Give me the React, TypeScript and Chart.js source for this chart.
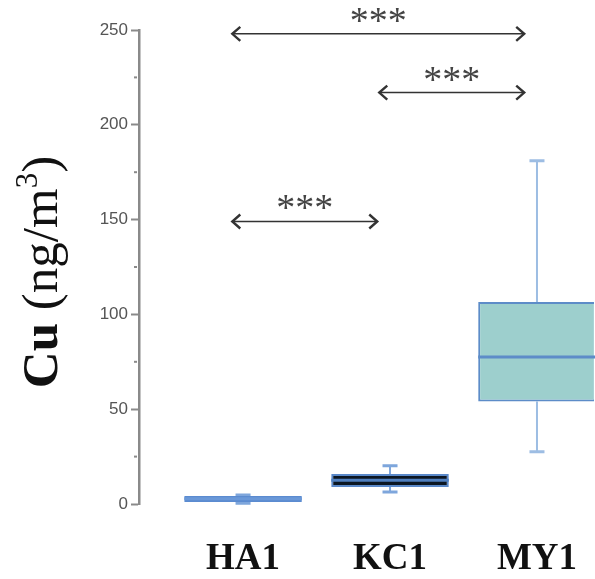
import React, { useEffect, useRef } from "react";
import { Chart, registerables } from "chart.js";

Chart.register(...registerables);

const categories = ["HA1", "KC1", "MY1"];
const whiskerLow = [0.4, 6.3, 27.5];
const q1 = [1.0, 9, 54];
const medians = [2.8, 12.5, 77.5];
const q3 = [4.2, 15.8, 106.5];
const whiskerHigh = [4.8, 20.2, 181];

const boxFill = ["#5b8bd0", "#0b1622", "#9dcfcd"];
const boxBorder = ["#5b8bd0", "#5a88c8", "#5d8cc8"];
const medianColor = ["#6a98d8", "#4f7fbf", "#5d8cc8"];
const whiskerColor = ["#7ea6dc", "#7ea6dc", "#9dbde3"];

const yTickValues = [0, 50, 100, 150, 200, 250];
const yMinorValues = [25, 75, 125, 175, 225];

const compFrom = [0, 1, 0];
const compTo = [2, 2, 1];
const compY = [248, 217, 149];
const compLabel = ["***", "***", "***"];

const SERIF = '"Liberation Serif", "Times New Roman", serif';
const SANS = '"Liberation Sans", Arial, sans-serif';

const boxPlugin = {
  id: "boxExtras",
  beforeDatasetsDraw(chart: any) {
    const { ctx, scales } = chart;
    const x = scales.x;
    const y = scales.y;
    ctx.save();
    categories.forEach((_, i) => {
      const cx = x.getPixelForValue(i);
      const capHalf = 7.5;
      ctx.strokeStyle = whiskerColor[i];
      ctx.lineWidth = 2;
      ctx.beginPath();
      ctx.moveTo(cx, y.getPixelForValue(q3[i]));
      ctx.lineTo(cx, y.getPixelForValue(whiskerHigh[i]));
      ctx.moveTo(cx, y.getPixelForValue(q1[i]));
      ctx.lineTo(cx, y.getPixelForValue(whiskerLow[i]));
      ctx.stroke();
      ctx.lineWidth = 3;
      ctx.beginPath();
      ctx.moveTo(cx - capHalf, y.getPixelForValue(whiskerHigh[i]));
      ctx.lineTo(cx + capHalf, y.getPixelForValue(whiskerHigh[i]));
      ctx.moveTo(cx - capHalf, y.getPixelForValue(whiskerLow[i]));
      ctx.lineTo(cx + capHalf, y.getPixelForValue(whiskerLow[i]));
      ctx.stroke();
    });
    ctx.restore();
  },
  afterDatasetsDraw(chart: any) {
    const { ctx, scales } = chart;
    const x = scales.x;
    const y = scales.y;
    const meta = chart.getDatasetMeta(0);
    ctx.save();
    categories.forEach((_, i) => {
      const bar = meta.data[i];
      const half = bar.width / 2;
      const cx = x.getPixelForValue(i);
      const my = y.getPixelForValue(medians[i]);
      ctx.strokeStyle = medianColor[i];
      ctx.lineWidth = 3;
      ctx.beginPath();
      ctx.moveTo(cx - half, my);
      ctx.lineTo(cx + half, my);
      ctx.stroke();
    });
    ctx.restore();
  },
  afterDraw(chart: any) {
    const { ctx, scales } = chart;
    const x = scales.x;
    const y = scales.y;
    ctx.save();
    // minor ticks
    ctx.strokeStyle = "#8a8a8a";
    ctx.lineWidth = 2;
    yMinorValues.forEach((v) => {
      const py = y.getPixelForValue(v);
      ctx.beginPath();
      ctx.moveTo(x.left - 5, py);
      ctx.lineTo(x.left - 2, py);
      ctx.stroke();
    });
    // comparison arrows
    const shift = -0.08;
    compFrom.forEach((f, k) => {
      const x1 = x.getPixelForValue(f + shift);
      const x2 = x.getPixelForValue(compTo[k] + shift);
      const py = y.getPixelForValue(compY[k]);
      ctx.strokeStyle = "#333";
      ctx.lineWidth = 1.5;
      ctx.beginPath();
      ctx.moveTo(x1 + 1, py);
      ctx.lineTo(x2 - 1, py);
      ctx.stroke();
      ctx.lineWidth = 2.4;
      ctx.beginPath();
      ctx.moveTo(x1 + 9, py - 7);
      ctx.lineTo(x1 + 1, py);
      ctx.lineTo(x1 + 9, py + 7);
      ctx.moveTo(x2 - 9, py - 7);
      ctx.lineTo(x2 - 1, py);
      ctx.lineTo(x2 - 9, py + 7);
      ctx.stroke();
      ctx.fillStyle = "#444";
      ctx.font = `38px ${SERIF}`;
      ctx.textAlign = "center";
      ctx.textBaseline = "alphabetic";
      ctx.fillText(compLabel[k], (x1 + x2) / 2, py - 1);
    });
    // y-axis title
    ctx.translate(57, 272);
    ctx.rotate(-Math.PI / 2);
    ctx.fillStyle = "#111";
    ctx.textAlign = "left";
    ctx.textBaseline = "alphabetic";
    const parts = [
      { t: "Cu", f: `bold 51px ${SERIF}`, dy: 0 },
      { t: " (ng/m", f: `51px ${SERIF}`, dy: 0 },
      { t: "3", f: `31px ${SERIF}`, dy: -20 },
      { t: ")", f: `51px ${SERIF}`, dy: 0 },
    ];
    let total = 0;
    const widths = parts.map((p) => {
      ctx.font = p.f;
      const w = ctx.measureText(p.t).width;
      total += w;
      return w;
    });
    let cur = -total / 2;
    parts.forEach((p, i) => {
      ctx.font = p.f;
      ctx.fillText(p.t, cur, p.dy);
      cur += widths[i];
    });
    ctx.restore();
  },
};

export default function App() {
  const ref = useRef<HTMLCanvasElement | null>(null);
  useEffect(() => {
    if (!ref.current) return;
    const chart = new Chart(ref.current, {
      type: "bar",
      data: {
        datasets: [
          {
            data: categories.map((_, i) => ({ x: i, y: [q1[i], q3[i]] })) as any,
            backgroundColor: boxFill,
            borderColor: boxBorder,
            borderWidth: 2,
            borderSkipped: false,
            categoryPercentage: 1,
            barPercentage: 0.8,
          },
        ],
      },
      options: {
        responsive: false,
        animation: false,
        layout: { padding: { top: 30, right: 1, left: 0, bottom: 0 } },
        plugins: { legend: { display: false }, tooltip: { enabled: false } },
        scales: {
          x: {
            type: "linear",
            offset: false,
            min: -0.708,
            max: 2.388,
            afterBuildTicks: (s: any) => {
              s.ticks = categories.map((_, i) => ({ value: i }));
            },
            afterFit: (s: any) => {
              s.height = 75;
              s.paddingLeft = 0;
              s.paddingRight = 0;
            },
            grid: { display: false, drawTicks: false },
            border: { display: false },
            ticks: {
              autoSkip: false,
              maxRotation: 0,
              padding: 33,
              color: "#111",
              font: { family: SERIF, size: 37, weight: "bold" },
              callback: (v: any) => categories[v] ?? "",
            },
          },
          y: {
            min: 0,
            max: 250,
            afterBuildTicks: (s: any) => {
              s.ticks = yTickValues.map((v) => ({ value: v }));
            },
            afterFit: (s: any) => {
              s.width = 139;
            },
            grid: {
              drawOnChartArea: false,
              drawTicks: true,
              tickLength: 8,
              tickColor: "#8a8a8a",
              tickWidth: 2,
            },
            border: { display: true, color: "#8a8a8a", width: 2.5 },
            ticks: {
              padding: 3,
              color: "#555",
              font: { family: SANS, size: 17 },
            },
          },
        },
      },
      plugins: [boxPlugin],
    });
    return () => chart.destroy();
  }, []);
  return (
    <div style={{ position: "fixed", left: 0, top: 0, width: 595, height: 579, background: "#fff" }}>
      <canvas ref={ref} width={595} height={579} />
    </div>
  );
}
